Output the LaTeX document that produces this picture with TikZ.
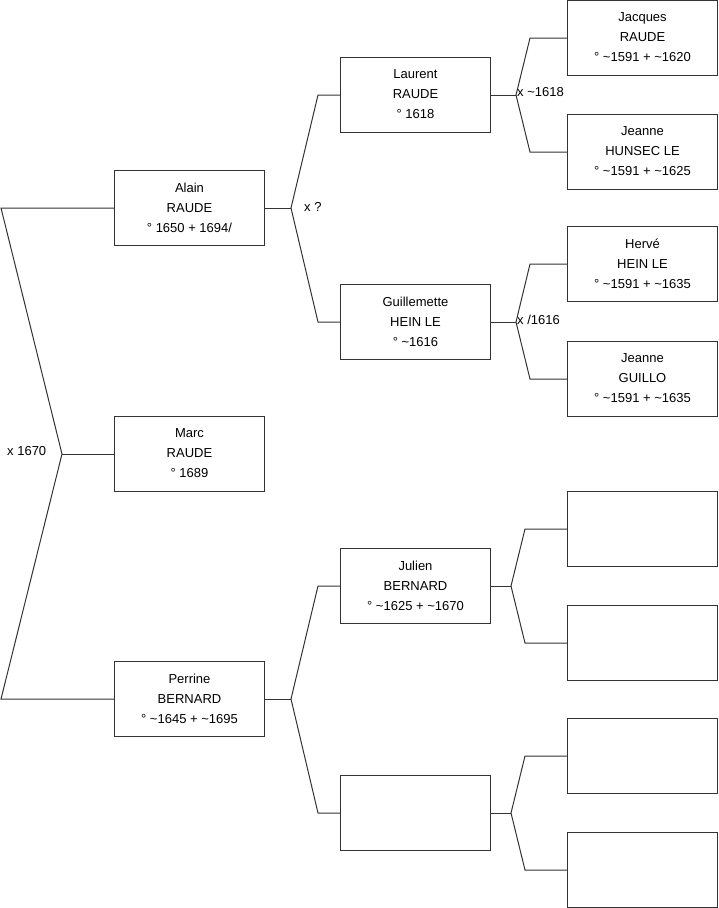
\documentclass[tikz,border=0pt]{standalone}
\usepackage{fontspec}
\setmainfont{Liberation Sans}
\begin{document}
\begin{tikzpicture}[x=1pt,y=-1pt,
  person/.style={draw=black!80,line width=1pt,fill=white,minimum width=150pt,minimum height=75pt,inner sep=0pt,align=center,font=\fontsize{13}{20}\selectfont},
  link/.style={draw=black!80,line width=1pt},
  marr/.style={anchor=west,inner sep=0pt,font=\fontsize{13}{15}\selectfont}]
\useasboundingbox (0,0) rectangle (719,908);
% generation 1
\node[person] (alain) at (189.5,208) {Alain\\RAUDE\\° 1650 + 1694/\rule[-1pt]{0pt}{1pt}};
\node[person] (marc) at (189.5,454) {Marc\\RAUDE\\° 1689\rule[-1pt]{0pt}{1pt}};
\node[person] (perrine) at (189.5,699) {Perrine\\BERNARD\\° \textasciitilde1645 + \textasciitilde1695\rule[-1pt]{0pt}{1pt}};
% generation 2
\node[person] (laurent) at (415.5,95) {Laurent\\RAUDE\\° 1618\rule[-1pt]{0pt}{1pt}};
\node[person] (guil) at (415.5,322) {Guillemette\\HEIN LE\\° \textasciitilde1616\rule[-1pt]{0pt}{1pt}};
\node[person] (julien) at (415.5,586) {Julien\\BERNARD\\° \textasciitilde1625 + \textasciitilde1670\rule[-1pt]{0pt}{1pt}};
\node[person] (e2) at (415.5,813) {};
% generation 3
\node[person] (jacques) at (642.5,38) {Jacques\\RAUDE\\° \textasciitilde1591 + \textasciitilde1620\rule[-1pt]{0pt}{1pt}};
\node[person] (jeanneh) at (642.5,152) {Jeanne\\HUNSEC LE\\° \textasciitilde1591 + \textasciitilde1625\rule[-1pt]{0pt}{1pt}};
\node[person] (herve) at (642.5,264) {Hervé\\HEIN LE\\° \textasciitilde1591 + \textasciitilde1635\rule[-1pt]{0pt}{1pt}};
\node[person] (jeanneg) at (642.5,379) {Jeanne\\GUILLO\\° \textasciitilde1591 + \textasciitilde1635\rule[-1pt]{0pt}{1pt}};
\node[person] (e3a) at (642.5,529) {};
\node[person] (e3b) at (642.5,643) {};
\node[person] (e3c) at (642.5,756) {};
\node[person] (e3d) at (642.5,870) {};
% coordinates
\coordinate (r1) at (1,208);
\coordinate (ra) at (62,454);
\coordinate (r2) at (1,699);
\coordinate (a1) at (291,208);
\coordinate (a1u) at (318,95);
\coordinate (a1d) at (318,322);
\coordinate (p1) at (291,699);
\coordinate (p1u) at (318,586);
\coordinate (p1d) at (318,813);
\coordinate (l1) at (516,95);
\coordinate (l1u) at (530,38);
\coordinate (l1d) at (530,152);
\coordinate (g1) at (516,322);
\coordinate (g1u) at (530,264);
\coordinate (g1d) at (530,379);
\coordinate (j1) at (511,586);
\coordinate (j1u) at (525,529);
\coordinate (j1d) at (525,643);
\coordinate (x1) at (511,813);
\coordinate (x1u) at (525,756);
\coordinate (x1d) at (525,870);
% connectors
\draw[link] (alain.west) -- (r1) -- (ra) -- (r2) -- (perrine.west);
\draw[link] (marc.west) -- (ra);
\draw[link] (alain.east) -- (a1);
\draw[link] (laurent.west) -- (a1u) -- (a1) -- (a1d) -- (guil.west);
\draw[link] (perrine.east) -- (p1);
\draw[link] (julien.west) -- (p1u) -- (p1) -- (p1d) -- (e2.west);
\draw[link] (laurent.east) -- (l1);
\draw[link] (jacques.west) -- (l1u) -- (l1) -- (l1d) -- (jeanneh.west);
\draw[link] (guil.east) -- (g1);
\draw[link] (herve.west) -- (g1u) -- (g1) -- (g1d) -- (jeanneg.west);
\draw[link] (julien.east) -- (j1);
\draw[link] (e3a.west) -- (j1u) -- (j1) -- (j1d) -- (e3b.west);
\draw[link] (e2.east) -- (x1);
\draw[link] (e3c.west) -- (x1u) -- (x1) -- (x1d) -- (e3d.west);
% marriage labels
\node[marr] (m0) at (7,451) {x 1670};
\node[marr] (m1) at (304,207) {x ?};
\node[marr] (m2) at (517,92) {x \textasciitilde1618};
\node[marr] (m3) at (517,320) {x /1616};
\end{tikzpicture}
\end{document}
